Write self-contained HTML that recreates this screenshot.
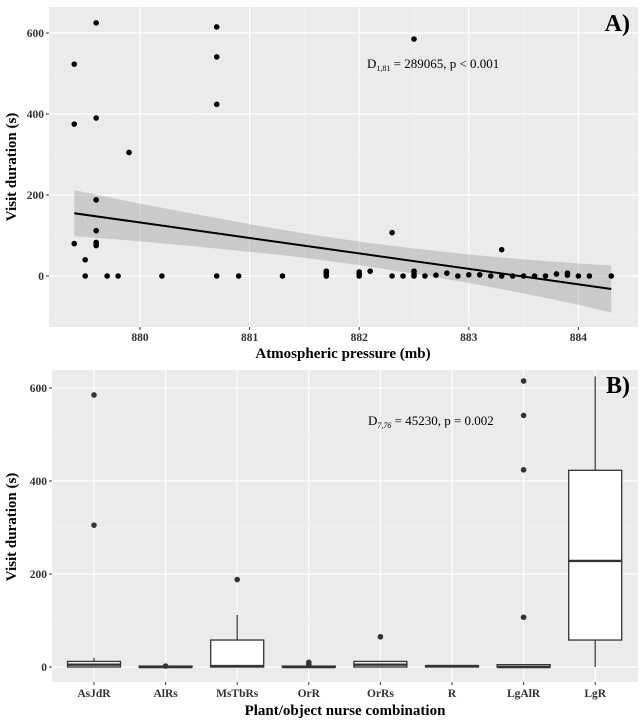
<!DOCTYPE html>
<html><head><meta charset="utf-8">
<style>
body{margin:0;background:#fff;}
svg{display:block;font-family:"Liberation Serif",serif;}
.tick{font-size:11.5px;font-weight:bold;fill:#333;}
.title{font-size:15px;font-weight:bold;fill:#000;}
</style></head>
<body>
<svg id="chart" width="640" height="723"></svg>
<script>
// Panel A data
const presX=[879.4,879.4,879.4,879.5,879.5,879.6,879.6,879.6,879.6,879.6,879.6,879.6,879.7,879.8,879.9,880.2,880.7,880.7,880.7,880.7,880.9,881.3,881.7,881.7,881.7,881.7,882,882,882,882.1,882.3,882.3,882.4,882.5,882.5,882.5,882.5,882.6,882.7,882.8,882.9,883,883.1,883.2,883.3,883.3,883.4,883.5,883.6,883.7,883.8,883.9,883.9,884,884.1,884.3];
const durY=[523,375,80,40,0,625,390,188,112,83,78,75,0,0,305,0,615,541,424,0,0,0,12,8,3,0,10,5,0,12,107,0,0,585,12,5,0,0,2,7,0,3,3,0,65,0,0,0,0,0,5,7,2,0,0,0];
const fitX=[879.4,884.3];
const fitY=[155,-32];
const bandX=[879.4,879.9,880.5,881,881.5,882,882.5,883,883.5,884,884.3];
const bandUpper=[212,184,153,128,105,85,68,53,41,31,26];
const bandLower=[98,88,73,60,45,27,6,-17,-43,-71,-90];
const aXTicks=[880,881,882,883,884];
const aYTicks=[0,200,400,600];
// Panel B data
const cats=["AsJdR","AlRs","MsTbRs","OrR","OrRs","R","LgAlR","LgR"];
const whiskLo=[0,0,0,0,0,0,0,0];
const q1=[0,0,0,0,0,0,0,58];
const med=[5,0,2,0,5,2,0,228];
const q3=[12,2,58,2,12,3,5,423];
const whiskHi=[20,2,112,2,12,3,5,625];
const outliers=[[585,305],[2],[188],[5,10],[65],[],[107,424,541,615],[]];
const bYTicks=[0,200,400,600];

const svg=document.getElementById('chart');
const NS='http://www.w3.org/2000/svg';
function mk(tag,attrs,parent){const e=document.createElementNS(NS,tag);for(const k in attrs)e.setAttribute(k,attrs[k]);(parent||svg).appendChild(e);return e;}

// ---------- Panel A ----------
const A={l:49,r:638,t:7,b:327};
const ax=v=>140+(v-880)*109.6;
const ay=v=>276-v*0.405;
let g=mk('g',{});


let bg=mk('rect',{x:A.l,y:A.t,width:A.r-A.l,height:A.b-A.t,fill:'#ebebeb'},g);


for(let v=879.5;v<=884.5;v+=1){mk('line',{x1:ax(v),x2:ax(v),y1:A.t,y2:A.b,stroke:'#f5f5f5','stroke-width':0.6},g);}
[-100,100,300,500].forEach(v=>mk('line',{x1:A.l,x2:A.r,y1:ay(v),y2:ay(v),stroke:'#f5f5f5','stroke-width':0.6},g));
aXTicks.forEach(v=>{
  mk('line',{x1:ax(v),x2:ax(v),y1:A.t,y2:A.b,stroke:'#fff','stroke-width':1.2},g);
  mk('line',{x1:ax(v),x2:ax(v),y1:A.b,y2:A.b+3,stroke:'#333'},g);
  const t=mk('text',{x:ax(v),y:A.b+14,'text-anchor':'middle',class:'tick'},g);t.textContent=v;
  
  
});
aYTicks.forEach(v=>{
  mk('line',{x1:A.l,x2:A.r,y1:ay(v),y2:ay(v),stroke:'#fff','stroke-width':1.2},g);
  mk('line',{x1:A.l-3,x2:A.l,y1:ay(v),y2:ay(v),stroke:'#333'},g);
  const t=mk('text',{x:A.l-5,y:ay(v)+4,'text-anchor':'end',class:'tick'},g);t.textContent=v;
  
  
});
let bp='';
bandX.forEach((x,i)=>bp+=(i?'L':'M')+ax(x)+','+ay(bandUpper[i]));
for(let i=bandX.length-1;i>=0;i--)bp+='L'+ax(bandX[i])+','+ay(bandLower[i]);
let band=mk('path',{d:bp+'Z',fill:'#999','fill-opacity':0.4},g);


presX.forEach((x,i)=>{
  const c=mk('circle',{cx:ax(x),cy:ay(durY[i]),r:2.8,fill:'#000'},g);
  
  
});
let fl=mk('line',{x1:ax(fitX[0]),y1:ay(fitY[0]),x2:ax(fitX[1]),y2:ay(fitY[1]),stroke:'#000','stroke-width':2},g);


let st=mk('text',{x:367,y:68,'font-size':'13px',fill:'#000'},g);
st.innerHTML='D<tspan font-size="8" dy="3">1,81</tspan><tspan dy="-3"> = 289065, p &lt; 0.001</tspan>';


let la=mk('text',{x:630,y:31,'text-anchor':'end','font-size':'24px','font-weight':'bold',fill:'#000'},g);la.textContent='A)';


let xt=mk('text',{x:343,y:358,'text-anchor':'middle',class:'title'},g);xt.textContent='Atmospheric pressure (mb)';


let yt=mk('text',{x:0,y:0,transform:'translate(16,167) rotate(-90)','text-anchor':'middle',class:'title'},g);yt.textContent='Visit duration (s)';



// ---------- Panel B ----------
const B={l:52,r:638,t:370,b:682};
const bx=i=>94+i*71.6;
const by=v=>667-v*0.465;
let g2=mk('g',{});


let bg2=mk('rect',{x:B.l,y:B.t,width:B.r-B.l,height:B.b-B.t,fill:'#ebebeb'},g2);


[100,300,500].forEach(v=>mk('line',{x1:B.l,x2:B.r,y1:by(v),y2:by(v),stroke:'#f5f5f5','stroke-width':0.6},g2));
bYTicks.forEach(v=>{
  mk('line',{x1:B.l,x2:B.r,y1:by(v),y2:by(v),stroke:'#fff','stroke-width':1.2},g2);
  mk('line',{x1:B.l-3,x2:B.l,y1:by(v),y2:by(v),stroke:'#333'},g2);
  const t=mk('text',{x:B.l-5,y:by(v)+4,'text-anchor':'end',class:'tick'},g2);t.textContent=v;
  
  
});
cats.forEach((c,i)=>{
  mk('line',{x1:bx(i),x2:bx(i),y1:B.t,y2:B.b,stroke:'#fff','stroke-width':1.2},g2);
  mk('line',{x1:bx(i),x2:bx(i),y1:B.b,y2:B.b+3,stroke:'#333'},g2);
  const t=mk('text',{x:bx(i),y:B.b+15,'text-anchor':'middle',class:'tick'},g2);t.textContent=c;
  
  
});
cats.forEach((c,i)=>{
  const bgp=mk('g',{},g2);
  
  
  const x=bx(i),w=53;
  mk('line',{x1:x,x2:x,y1:by(q3[i]),y2:by(whiskHi[i]),stroke:'#333','stroke-width':1.2},bgp);
  mk('line',{x1:x,x2:x,y1:by(q1[i]),y2:by(whiskLo[i]),stroke:'#333','stroke-width':1.2},bgp);
  mk('rect',{x:x-w/2,y:by(q3[i]),width:w,height:Math.max(by(q1[i])-by(q3[i]),0.5),fill:'#fff',stroke:'#333','stroke-width':1.3},bgp);
  mk('line',{x1:x-w/2,x2:x+w/2,y1:by(med[i]),y2:by(med[i]),stroke:'#333','stroke-width':2.4},bgp);
  outliers[i].forEach(v=>{
    const o=mk('circle',{cx:x,cy:by(v),r:2.8,fill:'#333'},bgp);
    
    
  });
});
let st2=mk('text',{x:368,y:425,'font-size':'13px',fill:'#000'},g2);
st2.innerHTML='D<tspan font-size="8" font-style="italic" dy="3">7,76</tspan><tspan dy="-3"> = 45230, p = 0.002</tspan>';


let lb=mk('text',{x:630,y:393,'text-anchor':'end','font-size':'24px','font-weight':'bold',fill:'#000'},g2);lb.textContent='B)';


let xt2=mk('text',{x:345,y:715,'text-anchor':'middle',class:'title'},g2);xt2.textContent='Plant/object nurse combination';


let yt2=mk('text',{x:0,y:0,transform:'translate(16,527) rotate(-90)','text-anchor':'middle',class:'title'},g2);yt2.textContent='Visit duration (s)';


</script>
</body></html>
